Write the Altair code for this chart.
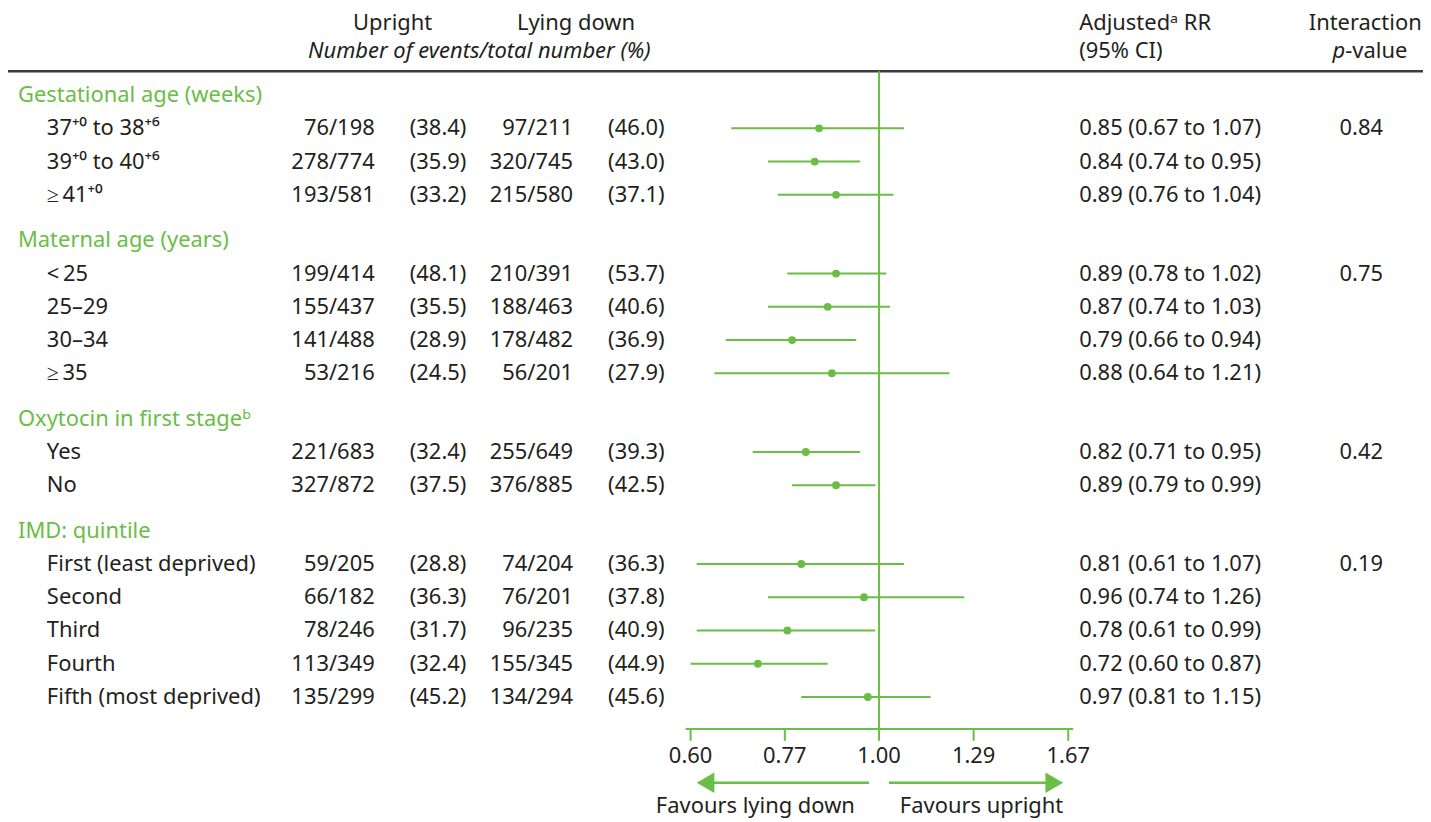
import altair as alt
import pandas as pd

# ---------------- data ----------------
groups = ["Gestational age (weeks)", "Maternal age (years)",
          "Oxytocin in first stage\u1d47", "IMD: quintile"]
group_sizes = [3, 4, 2, 5]
group_p = ["0.84", "0.75", "0.42", "0.19"]

subgroups = ["37\u207a\u2070 to 38\u207a\u2076", "39\u207a\u2070 to 40\u207a\u2076", "\u2265\u200941\u207a\u2070",
             "<\u200925", "25\u201329", "30\u201334", "\u2265\u200935",
             "Yes", "No",
             "First (least deprived)", "Second", "Third", "Fourth", "Fifth (most deprived)"]
upright_events = [76, 278, 193, 199, 155, 141, 53, 221, 327, 59, 66, 78, 113, 135]
upright_total = [198, 774, 581, 414, 437, 488, 216, 683, 872, 205, 182, 246, 349, 299]
upright_pct = [38.4, 35.9, 33.2, 48.1, 35.5, 28.9, 24.5, 32.4, 37.5, 28.8, 36.3, 31.7, 32.4, 45.2]
lying_events = [97, 320, 215, 210, 188, 178, 56, 255, 376, 74, 76, 96, 155, 134]
lying_total = [211, 745, 580, 391, 463, 482, 201, 649, 885, 204, 201, 235, 345, 294]
lying_pct = [46.0, 43.0, 37.1, 53.7, 40.6, 36.9, 27.9, 39.3, 42.5, 36.3, 37.8, 40.9, 44.9, 45.6]
rr = [0.85, 0.84, 0.89, 0.89, 0.87, 0.79, 0.88, 0.82, 0.89, 0.81, 0.96, 0.78, 0.72, 0.97]
rr_lo = [0.67, 0.74, 0.76, 0.78, 0.74, 0.66, 0.64, 0.71, 0.79, 0.61, 0.74, 0.61, 0.60, 0.81]
rr_hi = [1.07, 0.95, 1.04, 1.02, 1.03, 0.94, 1.21, 0.95, 0.99, 1.07, 1.26, 0.99, 0.87, 1.15]

tick_values = [0.6, 0.7746, 1.0, 1.2923, 1.67]
tick_labels = ["0.60", "0.77", "1.00", "1.29", "1.67"]

# ---------------- layout (row units) ----------------
GAP = 0.37
head_rows, item_rows = [], []
u = 0.0
k = 0
for gi, (g, n) in enumerate(zip(groups, group_sizes)):
    head_rows.append({"label": g, "u": u})
    for j in range(n):
        item_rows.append({
            "label": subgroups[k], "u": u + 1 + j,
            "up_n": f"{upright_events[k]}/{upright_total[k]}",
            "up_p": f"({upright_pct[k]:.1f})",
            "ly_n": f"{lying_events[k]}/{lying_total[k]}",
            "ly_p": f"({lying_pct[k]:.1f})",
            "rr": rr[k], "lo": rr_lo[k], "hi": rr_hi[k],
            "rr_txt": f"{rr[k]:.2f} ({rr_lo[k]:.2f} to {rr_hi[k]:.2f})",
            "p": group_p[gi] if j == 0 else "",
        })
        k += 1
    u += n + 1 + GAP

df_head = pd.DataFrame(head_rows)
df = pd.DataFrame(item_rows)
df_ticks = pd.DataFrame({"v": tick_values, "t": tick_labels})
df_one = pd.DataFrame({"v": [1.0]})

W, H = 1420, 812
ROW_PX = 33.35
TOP_PX = 86
yscale = alt.Scale(domain=[-TOP_PX / ROW_PX, (H - TOP_PX) / ROW_PX], range=[0, H], nice=False, zero=False)
xscale = alt.Scale(type="log", domain=[0.6, 1.67], range=[685, 1064], nice=False)

F = "Noto Sans"
FS = 22
GREEN = "#6abd45"
TXT = "#231f20"

Y = alt.Y("u:Q", scale=yscale, axis=None)


def txt(data, field, x, align, color=TXT, **kw):
    return alt.Chart(data).mark_text(align=align, baseline="middle", font=F, fontSize=FS,
                                     color=color, **kw).encode(
        x=alt.value(x), y=Y, text=alt.Text(f"{field}:N"))


def fixed(text, x, y, align, **kw):
    return alt.Chart(pd.DataFrame({"a": [0]})).mark_text(
        text=text, align=align, baseline="middle", font=F, fontSize=FS, color=TXT, **kw
    ).encode(x=alt.value(x), y=alt.value(y))


layers = []
# header texts
layers += [
    fixed("Upright", 386, 14, "center"),
    fixed("Lying down", 570, 14, "center"),
    fixed("Number of events/total number (%)", 473, 42, "center", fontStyle="italic"),
    fixed("Adjusted\u1d43 RR", 1075, 14, "left"),
    fixed("(95% CI)", 1075, 42, "left"),
    fixed("Interaction", 1362, 14, "center"),
    fixed("p", 1342, 42, "right", fontStyle="italic"),
    fixed("-value", 1342, 42, "left"),
]
# header rule
layers.append(alt.Chart(pd.DataFrame({"a": [0]})).mark_rule(color="#3c3c3c", strokeWidth=2.4).encode(
    x=alt.value(0), x2=alt.value(W), y=alt.value(62)))

# reference line at 1
layers.append(alt.Chart(df_one).mark_rule(color=GREEN, strokeWidth=2).encode(
    x=alt.X("v:Q", scale=xscale, axis=None), y=alt.value(62), y2=alt.value(722)))

# group headers and rows
layers.append(txt(df_head, "label", 10, "left", color=GREEN))
layers.append(txt(df, "label", 39, "left"))
layers.append(txt(df, "up_n", 368, "right"))
layers.append(txt(df, "up_p", 460, "right"))
layers.append(txt(df, "ly_n", 567, "right"))
layers.append(txt(df, "ly_p", 659, "right"))
layers.append(txt(df, "rr_txt", 1075, "left"))
layers.append(txt(df, "p", 1358, "center"))

# CI lines and points
layers.append(alt.Chart(df).mark_rule(color=GREEN, strokeWidth=2).encode(
    x=alt.X("lo:Q", scale=xscale, axis=None), x2="hi:Q", y=Y))
layers.append(alt.Chart(df).mark_circle(color=GREEN, size=62, opacity=1).encode(
    x=alt.X("rr:Q", scale=xscale, axis=None), y=Y))

# axis
layers.append(alt.Chart(pd.DataFrame({"a": [0]})).mark_rule(color=GREEN, strokeWidth=2).encode(
    x=alt.value(680), x2=alt.value(1069), y=alt.value(722)))
layers.append(alt.Chart(df_ticks).mark_rule(color=GREEN, strokeWidth=2).encode(
    x=alt.X("v:Q", scale=xscale, axis=None), y=alt.value(722), y2=alt.value(734)))
layers.append(alt.Chart(df_ticks).mark_text(baseline="middle", align="center", font=F, fontSize=FS,
                                             color=TXT).encode(
    x=alt.X("v:Q", scale=xscale, axis=None), y=alt.value(749), text="t:N"))

# arrows
layers.append(alt.Chart(pd.DataFrame({"a": [0]})).mark_rule(color=GREEN, strokeWidth=2.5).encode(
    x=alt.value(700), x2=alt.value(864), y=alt.value(776)))
layers.append(alt.Chart(pd.DataFrame({"a": [0]})).mark_rule(color=GREEN, strokeWidth=2.5).encode(
    x=alt.value(884), x2=alt.value(1050), y=alt.value(776)))
layers.append(alt.Chart(pd.DataFrame({"a": [0]})).mark_point(shape="triangle-left", filled=True, size=420,
                                                             color=GREEN, opacity=1).encode(
    x=alt.value(700), y=alt.value(776)))
layers.append(alt.Chart(pd.DataFrame({"a": [0]})).mark_point(shape="triangle-right", filled=True, size=420,
                                                             color=GREEN, opacity=1).encode(
    x=alt.value(1050), y=alt.value(776)))
layers.append(fixed("Favours lying down", 750, 799, "center"))
layers.append(fixed("Favours upright", 977, 799, "center"))

chart = alt.layer(*layers).properties(
    width=W, height=H, padding=0, autosize=alt.AutoSizeParams(type="none")
).configure_view(stroke=None)

chart.save("out.html", embed_options={"renderer": "svg", "actions": False})
